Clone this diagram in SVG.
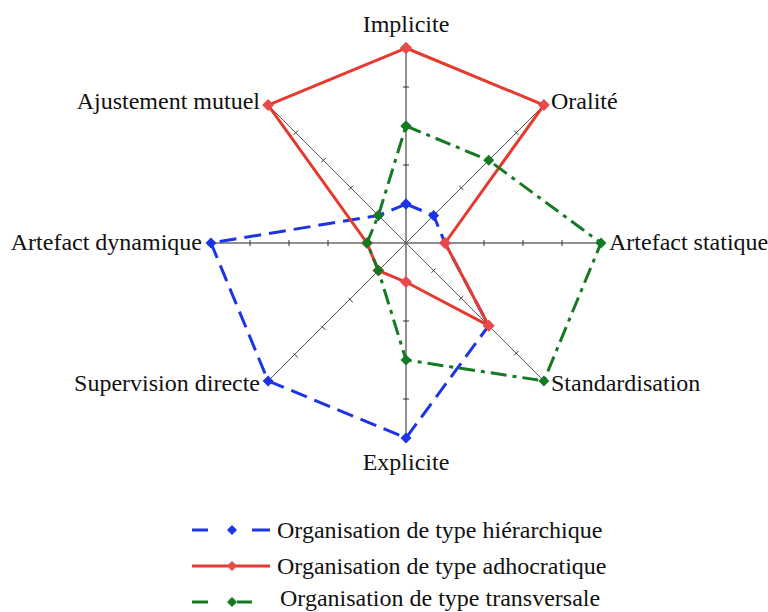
<svg xmlns="http://www.w3.org/2000/svg" width="768" height="612" viewBox="0 0 768 612">
<defs>
<style>
.axis{stroke:#222;stroke-width:1;fill:none}
.diag{stroke:#555;stroke-width:1;fill:none}
.tick{stroke:#333;stroke-width:1}
.lbl{font-family:"Liberation Serif","Times New Roman",serif;font-size:24px;fill:#111}
.blue{stroke:#1b34e6;stroke-width:3;fill:none;stroke-dasharray:17 8}
.red{stroke:#e63a2e;stroke-width:3;fill:none}
.green{stroke:#137a22;stroke-width:3;fill:none;stroke-dasharray:16 6 4 6}
</style>
<marker id="mb" markerUnits="userSpaceOnUse" markerWidth="14" markerHeight="14" refX="7" refY="7" viewBox="0 0 14 14"><path d="M7,1.5 L12.5,7 L7,12.5 L1.5,7 Z" fill="#1b34e6"/></marker>
<marker id="mr" markerUnits="userSpaceOnUse" markerWidth="14" markerHeight="14" refX="7" refY="7" viewBox="0 0 14 14"><path d="M7,1 L13,7 L7,13 L1,7 Z" fill="#e84a4a"/></marker>
<marker id="mg" markerUnits="userSpaceOnUse" markerWidth="14" markerHeight="14" refX="7" refY="7" viewBox="0 0 14 14"><path d="M7,1.5 L12.5,7 L7,12.5 L1.5,7 Z" fill="#137a22"/></marker>
</defs>
<rect width="768" height="612" fill="#fff"/>
<g id="grid">
<line class="axis" x1="406" y1="48" x2="406" y2="438"/>
<line class="axis" x1="211" y1="243" x2="601" y2="243"/>
<line class="diag" x1="268.1" y1="105.1" x2="543.9" y2="380.9"/>
<line class="diag" x1="543.9" y1="105.1" x2="268.1" y2="380.9"/>
<path class="tick" d="M403,204h6M403,165h6M403,126h6M403,87h6M403,282h6M403,321h6M403,360h6M403,399h6
M445,240v6M484,240v6M523,240v6M562,240v6M367,240v6M328,240v6M289,240v6M250,240v6
M431.5,213.3l4.2,4.2M459.1,185.7l4.2,4.2M486.6,158.2l4.2,4.2M514.2,130.6l4.2,4.2
M376.3,270.6l4.2,4.2M348.7,298.2l4.2,4.2M321.2,325.7l4.2,4.2M293.6,353.3l4.2,4.2
M376.3,217.5l4.2,-4.2M348.7,189.9l4.2,-4.2M321.2,162.4l4.2,-4.2M293.6,134.8l4.2,-4.2
M431.5,272.7l4.2,-4.2M459.1,300.2l4.2,-4.2M486.6,327.8l4.2,-4.2M514.2,355.3l4.2,-4.2"/>
</g>
<g id="connectors">
<polygon id="hierarchique" class="blue" points="406,204 433.6,215.4 445,243 488.7,325.7 406,438 268.1,380.9 211,243 378.4,215.4" marker-start="url(#mb)" marker-mid="url(#mb)" marker-end="url(#mb)"/>
<polygon id="adhocratique" class="red" points="406,48 543.9,105.1 445,243 488.7,325.7 406,282 378.4,270.6 367,243 268.1,105.1" marker-start="url(#mr)" marker-mid="url(#mr)" marker-end="url(#mr)"/>
<polygon id="transversale" class="green" points="406,126 488.7,160.3 601,243 543.9,380.9 406,360 378.4,270.6 367,243 378.4,215.4" marker-start="url(#mg)" marker-mid="url(#mg)" marker-end="url(#mg)"/>
</g>
<g id="labels">
<g id="n-implicite"><text class="lbl" x="406" y="32" text-anchor="middle">Implicite</text></g>
<g id="n-oralite"><text class="lbl" x="551" y="109">Oralité</text></g>
<g id="n-artefact-statique"><text class="lbl" x="609" y="250">Artefact statique</text></g>
<g id="n-standardisation"><text class="lbl" x="551" y="391">Standardisation</text></g>
<g id="n-explicite"><text class="lbl" x="406" y="470" text-anchor="middle">Explicite</text></g>
<g id="n-supervision"><text class="lbl" x="260" y="391" text-anchor="end">Supervision directe</text></g>
<g id="n-artefact-dynamique"><text class="lbl" x="202" y="250" text-anchor="end">Artefact dynamique</text></g>
<g id="n-ajustement"><text class="lbl" x="260" y="109" text-anchor="end">Ajustement mutuel</text></g>
</g>
<g id="legend">
<g id="leg-blue">
<path d="M192,530h16M252,530h18" stroke="#1b34e6" stroke-width="3"/>
<path d="M232,525 L237,530 L232,535 L227,530 Z" fill="#1b34e6"/>
<text class="lbl" x="277" y="538">Organisation de type hiérarchique</text>
</g>
<g id="leg-red">
<path d="M192,566h78" stroke="#e63a2e" stroke-width="3"/>
<path d="M232,561 L237,566 L232,571 L227,566 Z" fill="#e84a4a"/>
<text class="lbl" x="277" y="574">Organisation de type adhocratique</text>
</g>
<g id="leg-green">
<path d="M192,602h16M237,602h15" stroke="#137a22" stroke-width="3"/>
<path d="M232,597 L237,602 L232,607 L227,602 Z" fill="#137a22"/>
<text class="lbl" x="280" y="606">Organisation de type transversale</text>
</g>
</g>
</svg>
